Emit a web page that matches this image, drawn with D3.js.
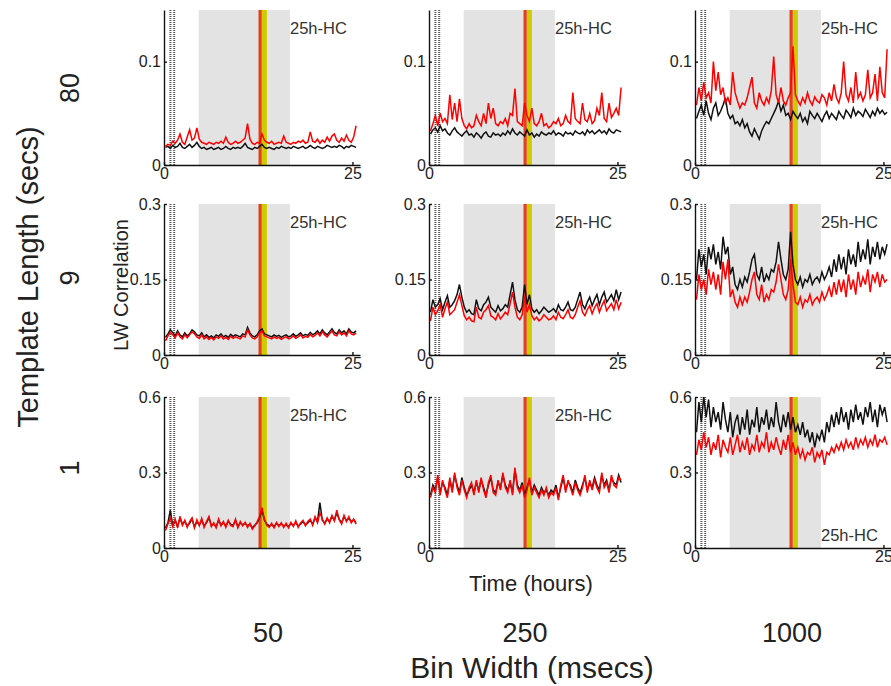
<!DOCTYPE html>
<html lang="en">
<head>
  <meta charset="UTF-8">
  <title>LW Correlation by Template Length and Bin Width</title>
  <script src="https://d3js.org/d3.v7.min.js"></script>
  <style>
    body { margin: 0; background: #fff; }
    svg { display: block; font-family: "Liberation Sans", Arial, sans-serif; }
    .tick text { font-size: 16px; fill: #222; }
    .axis path, .axis line { stroke: #111; stroke-width: 1.4; }
  </style>
</head>
<body>
  <svg width="891" height="686"></svg>

  <script>
    // Labels
    const templateLengths = ["80", "9", "1"];
    const binWidths = ["50", "250", "1000"];
    const yMaxByRow = [0.15, 0.3, 0.6];
    const yTicksByRow = [[0, 0.1], [0, 0.15, 0.3], [0, 0.3, 0.6]];
    const xTicks = [0, 25];
    const grayPeriod = [4.6, 16.7];
    const yellowBand = [12.95, 13.65];
    const redMarker = 12.75;
    const dottedMarks = [0.85, 1.35];

    // sample times (hours), one every 0.32 h
    const hours = d3.range(80).map(i => 0.2 + i * 0.32);

    // template 80 s
    const black_80_50 = [.017,.018,.016,.019,.017,.018,.021,.017,.016,.018,
      .020,.017,.019,.022,.018,.016,.017,.015,.016,.017,
      .015,.016,.017,.015,.016,.018,.016,.015,.017,.016,
      .017,.016,.018,.021,.017,.016,.015,.017,.016,.018,
      .020,.017,.016,.017,.016,.015,.017,.016,.018,.017,
      .016,.017,.016,.018,.017,.016,.017,.018,.016,.017,
      .019,.017,.016,.018,.017,.016,.017,.019,.018,.017,
      .018,.017,.019,.018,.016,.018,.017,.019,.018,.017];
    const red_80_50 = [.018,.020,.019,.023,.021,.024,.030,.022,.020,.027,
      .034,.024,.026,.036,.025,.022,.021,.020,.022,.021,
      .020,.022,.021,.023,.021,.027,.022,.020,.021,.023,
      .021,.022,.024,.026,.040,.025,.021,.020,.022,.021,
      .030,.024,.022,.021,.023,.020,.021,.022,.021,.028,
      .022,.021,.020,.022,.021,.023,.022,.024,.021,.022,
      .032,.023,.022,.025,.021,.024,.022,.027,.023,.028,
      .030,.024,.022,.026,.023,.029,.024,.022,.027,.038];
    const black_80_250 = [.030,.034,.036,.032,.038,.033,.035,.031,.029,.033,
      .036,.032,.030,.028,.031,.033,.029,.030,.027,.031,
      .029,.026,.030,.032,.028,.027,.031,.029,.030,.028,
      .031,.029,.033,.030,.035,.031,.029,.032,.030,.028,
      .034,.029,.031,.027,.030,.028,.032,.030,.029,.031,
      .030,.033,.029,.031,.030,.028,.032,.030,.031,.029,
      .033,.031,.030,.032,.029,.034,.031,.033,.030,.032,
      .034,.031,.033,.030,.035,.032,.031,.034,.033,.032];
    const red_80_250 = [.033,.040,.048,.038,.050,.042,.045,.040,.068,.044,
      .060,.042,.064,.045,.038,.035,.040,.036,.038,.048,
      .042,.038,.050,.040,.060,.045,.055,.040,.038,.042,
      .040,.045,.038,.050,.048,.074,.042,.040,.038,.060,
      .048,.042,.055,.040,.038,.042,.050,.038,.040,.036,
      .038,.042,.040,.045,.038,.040,.048,.042,.040,.070,
      .045,.042,.040,.060,.044,.042,.050,.040,.043,.055,
      .048,.070,.045,.042,.060,.046,.050,.055,.048,.075];
    const black_80_1000 = [.045,.052,.058,.048,.062,.050,.044,.055,.060,.048,
      .052,.058,.065,.050,.045,.048,.040,.042,.038,.044,
      .036,.040,.032,.028,.035,.030,.025,.033,.038,.042,
      .040,.045,.050,.055,.062,.052,.058,.048,.050,.044,
      .052,.048,.045,.050,.042,.046,.040,.052,.048,.045,
      .050,.046,.042,.048,.052,.045,.050,.047,.044,.052,
      .048,.045,.053,.050,.046,.055,.048,.052,.050,.047,
      .054,.050,.046,.052,.048,.055,.050,.053,.049,.051];
    const red_80_1000 = [.058,.075,.062,.080,.065,.070,.060,.100,.072,.090,
      .068,.075,.060,.065,.058,.090,.070,.062,.055,.060,
      .058,.065,.075,.085,.060,.055,.070,.062,.058,.065,
      .060,.072,.105,.068,.060,.075,.062,.058,.065,.070,
      .115,.068,.062,.058,.065,.060,.070,.062,.058,.066,
      .062,.060,.068,.065,.058,.070,.062,.078,.065,.060,
      .070,.100,.068,.062,.075,.060,.090,.065,.070,.062,
      .068,.092,.065,.070,.088,.062,.095,.070,.065,.112];

    // template 9 s
    const black_9_50 = [.035,.042,.050,.045,.038,.048,.040,.036,.044,.038,
      .042,.050,.046,.040,.038,.044,.036,.040,.035,.038,
      .034,.040,.037,.042,.036,.039,.035,.041,.037,.040,
      .038,.036,.042,.040,.055,.044,.038,.036,.040,.048,
      .052,.042,.040,.038,.036,.040,.037,.039,.035,.038,
      .040,.036,.038,.042,.037,.040,.044,.038,.041,.039,
      .045,.040,.043,.048,.042,.050,.044,.040,.046,.052,
      .045,.042,.050,.044,.048,.042,.052,.046,.044,.048];
    const red_9_50 = [.028,.038,.045,.040,.034,.044,.036,.032,.040,.034,
      .040,.046,.042,.036,.033,.040,.032,.036,.031,.035,
      .030,.036,.033,.038,.032,.035,.031,.037,.033,.036,
      .034,.032,.038,.036,.050,.040,.034,.032,.036,.044,
      .048,.038,.036,.034,.032,.036,.033,.035,.031,.034,
      .036,.032,.034,.038,.033,.036,.040,.034,.037,.035,
      .041,.036,.039,.044,.038,.046,.040,.036,.042,.048,
      .040,.038,.046,.040,.044,.038,.048,.042,.040,.044];
    const black_9_250 = [.085,.110,.095,.100,.112,.090,.105,.118,.095,.100,
      .108,.120,.140,.115,.095,.085,.090,.082,.080,.110,
      .092,.088,.100,.105,.115,.095,.090,.085,.098,.088,
      .092,.100,.095,.120,.145,.110,.090,.085,.095,.140,
      .100,.120,.092,.085,.090,.082,.088,.095,.090,.085,
      .088,.092,.085,.100,.090,.088,.095,.105,.090,.088,
      .095,.110,.125,.100,.092,.105,.115,.098,.110,.120,
      .100,.115,.125,.105,.112,.120,.108,.130,.110,.125];
    const red_9_250 = [.068,.095,.080,.088,.100,.075,.092,.105,.080,.085,
      .090,.105,.120,.098,.078,.070,.075,.068,.066,.095,
      .075,.072,.085,.090,.098,.078,.075,.070,.082,.072,
      .078,.085,.080,.102,.125,.095,.075,.070,.080,.118,
      .085,.100,.078,.070,.075,.068,.072,.080,.075,.070,
      .072,.078,.070,.085,.075,.072,.080,.090,.075,.072,
      .080,.095,.108,.085,.078,.090,.098,.082,.094,.102,
      .085,.098,.108,.088,.095,.102,.090,.110,.092,.105];
    const black_9_1000 = [.150,.210,.175,.200,.160,.215,.190,.220,.180,.205,
      .170,.235,.200,.215,.160,.175,.140,.130,.150,.135,
      .155,.145,.165,.190,.200,.160,.150,.175,.145,.160,
      .150,.170,.165,.185,.225,.190,.160,.150,.170,.245,
      .180,.150,.140,.155,.135,.150,.145,.160,.140,.150,
      .155,.145,.165,.150,.160,.175,.155,.190,.165,.200,
      .170,.195,.160,.210,.180,.200,.175,.225,.185,.210,
      .190,.230,.180,.215,.195,.225,.190,.215,.200,.220];
    const red_9_1000 = [.110,.160,.130,.150,.120,.170,.140,.165,.130,.160,
      .120,.185,.150,.190,.115,.130,.105,.095,.115,.100,
      .115,.105,.125,.150,.165,.120,.110,.140,.105,.120,
      .110,.130,.125,.145,.180,.150,.120,.110,.130,.190,
      .140,.105,.100,.115,.095,.110,.105,.120,.100,.110,
      .115,.105,.125,.110,.120,.135,.115,.145,.120,.150,
      .125,.150,.115,.160,.130,.150,.120,.165,.135,.155,
      .140,.170,.125,.160,.145,.165,.135,.160,.145,.150];

    // template 1 s
    const black_1_50 = [.080,.100,.150,.090,.110,.085,.120,.095,.105,.088,
      .098,.115,.085,.105,.092,.110,.088,.100,.120,.090,
      .095,.085,.110,.092,.100,.088,.105,.095,.090,.110,
      .085,.100,.092,.098,.088,.095,.080,.090,.100,.120,
      .150,.110,.095,.088,.092,.085,.098,.090,.095,.088,
      .092,.085,.098,.090,.100,.088,.095,.105,.092,.100,
      .110,.095,.120,.105,.180,.110,.098,.115,.105,.125,
      .110,.140,.115,.100,.125,.110,.118,.105,.112,.100];
    const red_1_50 = [.070,.095,.120,.085,.115,.080,.125,.090,.110,.082,
      .105,.120,.080,.112,.088,.118,.082,.105,.125,.085,
      .100,.080,.115,.088,.105,.082,.110,.090,.085,.115,
      .080,.105,.088,.102,.082,.098,.075,.088,.105,.125,
      .160,.115,.090,.082,.098,.080,.102,.085,.100,.082,
      .098,.080,.102,.085,.108,.082,.100,.110,.088,.105,
      .115,.090,.125,.100,.140,.115,.095,.120,.100,.130,
      .108,.150,.112,.095,.130,.105,.125,.100,.115,.095];
    const black_1_250 = [.210,.250,.230,.280,.220,.260,.240,.210,.270,.230,
      .290,.250,.220,.280,.240,.210,.230,.250,.220,.260,
      .230,.270,.240,.210,.250,.280,.230,.220,.260,.240,
      .290,.250,.230,.260,.220,.310,.250,.230,.260,.210,
      .240,.270,.220,.250,.230,.210,.240,.220,.230,.210,
      .230,.220,.250,.200,.240,.280,.230,.260,.250,.220,
      .270,.240,.220,.250,.280,.230,.260,.240,.280,.250,
      .230,.290,.250,.270,.230,.280,.260,.250,.290,.260];
    const red_1_250 = [.200,.240,.220,.290,.210,.270,.230,.200,.280,.220,
      .300,.240,.210,.270,.230,.200,.240,.260,.210,.270,
      .220,.280,.230,.200,.260,.290,.220,.210,.270,.230,
      .300,.240,.220,.270,.210,.320,.240,.220,.250,.200,
      .230,.280,.210,.240,.220,.200,.230,.210,.240,.200,
      .220,.210,.240,.190,.250,.290,.220,.270,.240,.210,
      .260,.230,.210,.240,.290,.220,.270,.230,.270,.240,
      .220,.300,.240,.260,.220,.290,.250,.240,.280,.270];
    const black_1_1000 = [.460,.580,.500,.600,.520,.590,.480,.560,.500,.540,
      .470,.580,.510,.460,.540,.440,.500,.530,.450,.520,
      .470,.550,.450,.510,.480,.560,.460,.520,.490,.550,
      .470,.520,.480,.580,.500,.460,.530,.480,.540,.470,
      .520,.460,.490,.450,.500,.440,.470,.420,.460,.400,
      .450,.430,.470,.420,.500,.460,.530,.480,.540,.490,
      .560,.500,.540,.470,.550,.500,.570,.510,.540,.490,
      .560,.520,.580,.500,.550,.480,.570,.530,.560,.500];
    const red_1_1000 = [.370,.430,.390,.460,.400,.440,.370,.420,.390,.450,
      .360,.430,.400,.380,.440,.370,.410,.450,.380,.420,
      .390,.440,.370,.410,.390,.450,.380,.420,.400,.460,
      .380,.420,.390,.440,.400,.370,.430,.390,.450,.380,
      .420,.370,.400,.360,.390,.350,.380,.370,.400,.340,
      .380,.360,.390,.330,.380,.370,.400,.380,.410,.390,
      .420,.390,.430,.400,.420,.390,.440,.400,.430,.410,
      .440,.400,.430,.410,.450,.400,.430,.420,.440,.410];

    const blackSeries = [
      [black_80_50, black_80_250, black_80_1000],
      [black_9_50, black_9_250, black_9_1000],
      [black_1_50, black_1_250, black_1_1000]
    ];
    const redSeries = [
      [red_80_50, red_80_250, red_80_1000],
      [red_9_50, red_9_250, red_9_1000],
      [red_1_50, red_1_250, red_1_1000]
    ];

    // layout
    const rowTop = [10, 204, 397];
    const rowBottom = [165, 355, 548];
    const colLeft = [164, 429, 695];
    const panelWidth = 196;

    const svg = d3.select("svg");

    for (let r = 0; r < 3; r++) {
      for (let c = 0; c < 3; c++) {
        const x = d3.scaleLinear().domain([0, 26]).range([colLeft[c], colLeft[c] + panelWidth]);
        const y = d3.scaleLinear().domain([0, yMaxByRow[r]]).range([rowBottom[r], rowTop[r]]);
        const g = svg.append("g");

        // shaded period + marker band
        g.append("rect")
          .attr("x", x(grayPeriod[0]))
          .attr("y", rowTop[r])
          .attr("width", x(grayPeriod[1]) - x(grayPeriod[0]))
          .attr("height", rowBottom[r] - rowTop[r])
          .attr("fill", "#e3e3e3");
        g.append("rect")
          .attr("x", x(yellowBand[0]))
          .attr("y", rowTop[r])
          .attr("width", x(yellowBand[1]) - x(yellowBand[0]))
          .attr("height", rowBottom[r] - rowTop[r])
          .attr("fill", "#d0ca00");
        g.append("line")
          .attr("x1", x(redMarker)).attr("x2", x(redMarker))
          .attr("y1", rowTop[r]).attr("y2", rowBottom[r])
          .attr("stroke", "#e3401c")
          .attr("stroke-width", 3.2);

        // dotted marks near start
        dottedMarks.forEach(h => {
          g.append("line")
            .attr("x1", x(h)).attr("x2", x(h))
            .attr("y1", rowTop[r]).attr("y2", rowBottom[r])
            .attr("stroke", "#555")
            .attr("stroke-width", 2)
            .attr("stroke-dasharray", "1,1");
        });

        // series
        const line = d3.line()
          .x((d, i) => x(hours[i]))
          .y(d => y(d));
        g.append("path")
          .datum(blackSeries[r][c])
          .attr("fill", "none")
          .attr("stroke", "#111")
          .attr("stroke-width", 1.5)
          .attr("d", line);
        g.append("path")
          .datum(redSeries[r][c])
          .attr("fill", "none")
          .attr("stroke", "#ff0000")
          .attr("stroke-width", 1.5)
          .attr("d", line);

        // axes
        g.append("g")
          .attr("class", "axis")
          .attr("transform", `translate(${colLeft[c]},0)`)
          .call(d3.axisLeft(y).tickValues(yTicksByRow[r]).tickFormat(d => String(d))
            .tickSize(-3).tickSizeOuter(0).tickPadding(3));
        g.append("g")
          .attr("class", "axis")
          .attr("transform", `translate(0,${rowBottom[r]})`)
          .call(d3.axisBottom(x).tickValues(xTicks).tickFormat(d => String(d))
            .tickSize(-3).tickSizeOuter(0).tickPadding(3));

        // 25h-HC label
        const bottomLabel = (r === 2 && c === 2);
        g.append("text")
          .attr("x", colLeft[c] + 126)
          .attr("y", bottomLabel ? rowBottom[r] - 7 : rowTop[r] + 24)
          .attr("font-size", 16.5)
          .attr("fill", "#333")
          .text("25h-HC");
      }
    }

    // row labels
    const rowLabelY = [88, 278, 468];
    templateLengths.forEach((t, i) => {
      svg.append("text")
        .attr("transform", `translate(79,${rowLabelY[i]}) rotate(-90)`)
        .attr("text-anchor", "middle")
        .attr("font-size", 27)
        .attr("fill", "#222")
        .text(t);
    });
    svg.append("text")
      .attr("transform", "translate(38,277) rotate(-90)")
      .attr("text-anchor", "middle")
      .attr("font-size", 29)
      .attr("fill", "#222")
      .text("Template Length (secs)");
    svg.append("text")
      .attr("transform", "translate(128,285) rotate(-90)")
      .attr("text-anchor", "middle")
      .attr("font-size", 20)
      .attr("fill", "#222")
      .text("LW Correlation");

    // column labels
    const colLabelX = [268, 525, 792];
    binWidths.forEach((b, i) => {
      svg.append("text")
        .attr("x", colLabelX[i])
        .attr("y", 642)
        .attr("text-anchor", "middle")
        .attr("font-size", 27)
        .attr("fill", "#222")
        .text(b);
    });
    svg.append("text")
      .attr("x", 531)
      .attr("y", 591)
      .attr("text-anchor", "middle")
      .attr("font-size", 22)
      .attr("fill", "#222")
      .text("Time (hours)");
    svg.append("text")
      .attr("x", 532)
      .attr("y", 678)
      .attr("text-anchor", "middle")
      .attr("font-size", 30)
      .attr("fill", "#222")
      .text("Bin Width (msecs)");
  </script>
</body>
</html>
